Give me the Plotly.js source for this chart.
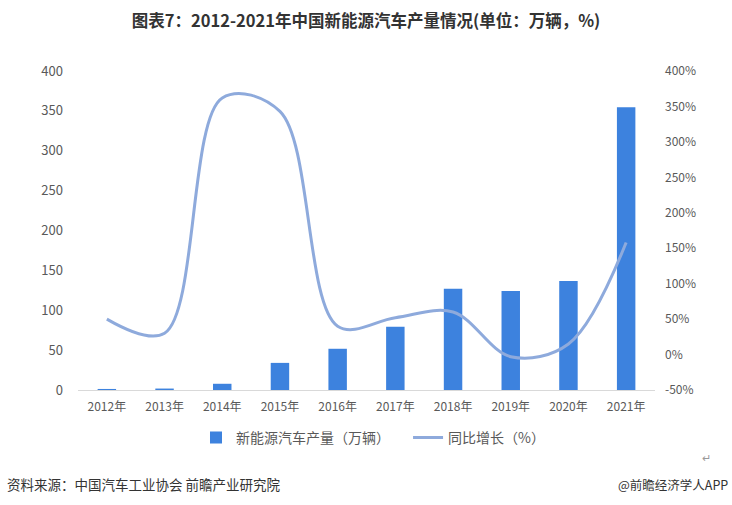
<!DOCTYPE html>
<html><head><meta charset="utf-8">
<script src="https://cdn.plot.ly/plotly-3.0.1.min.js"></script>
<style>html,body{margin:0;padding:0;background:#fff;}#chart{width:732px;height:505px;}</style>
</head><body><div id="chart"></div>
<script>
const categories = ['2012年','2013年','2014年','2015年','2016年','2017年','2018年','2019年','2020年','2021年'];
const production = [1.3, 1.8, 7.8, 34, 51.7, 79.4, 127, 124.2, 136.6, 354.5];
const growth = [50, 30, 362, 343, 40, 52, 60, -3, 15, 158];
const leftTicks = [0, 50, 100, 150, 200, 250, 300, 350, 400];
const rightTicks = [-50, 0, 50, 100, 150, 200, 250, 300, 350, 400];

const font = 'Noto Sans CJK SC, Noto Sans, sans-serif';
const data = [
  {type:'bar', x:categories, y:production, name:'新能源汽车产量（万辆）',
   marker:{color:'#3d82de'}, width:0.32, yaxis:'y', legend:'legend'},
  {type:'scatter', mode:'lines', x:categories, y:growth, name:'同比增长（%）',
   line:{color:'#8eaadc', width:3, shape:'spline', smoothing:1.0}, yaxis:'y2', legend:'legend2'}
];
const legendBase = {orientation:'h', yanchor:'middle', y:-0.15, xanchor:'left',
  font:{size:14, color:'#595959'}, itemwidth:30, bgcolor:'rgba(0,0,0,0)'};
const layout = {
  width:732, height:505,
  margin:{l:78, r:77, t:71, b:115},
  paper_bgcolor:'#fff', plot_bgcolor:'#fff',
  font:{family:font, size:12, color:'#595959'},
  title:{text:'<b>图表7：2012-2021年中国新能源汽车产量情况(单位：万辆，%)</b>',
    x:0.5, xanchor:'center', y:0.957, yanchor:'middle', font:{size:16.5, color:'#333', family:font}},
  showlegend:true,
  legend:Object.assign({}, legendBase, {x:0.2045}),
  legend2:Object.assign({}, legendBase, {x:0.572}),
  xaxis:{showline:true, linecolor:'#d9d9d9', linewidth:1, ticks:'', tickfont:{size:12, color:'#595959'},
    showgrid:false, zeroline:false, ticklabelstandoff:6},
  yaxis:{range:[0,400], tickvals:leftTicks, ticktext:leftTicks.map(String), showgrid:false, zeroline:false,
    showline:false, ticks:'', tickfont:{size:13, color:'#595959'}, ticklabelstandoff:14},
  yaxis2:{range:[-50,400], overlaying:'y', side:'right', tickvals:rightTicks,
    ticktext:rightTicks.map(v=>v+'%'), showgrid:false, zeroline:false, showline:false, ticks:'',
    tickfont:{size:12, color:'#595959'}, ticklabelstandoff:9},
  annotations:[
    {text:'资料来源：中国汽车工业协会 前瞻产业研究院', xref:'paper', yref:'paper', x:-0.1265, xanchor:'left',
     y:-0.296, yanchor:'middle', showarrow:false, font:{size:13.5, color:'#333'}},
    {text:'@前瞻经济学人APP', xref:'paper', yref:'paper', x:1.13, xanchor:'right',
     y:-0.296, yanchor:'middle', showarrow:false, font:{size:12.5, color:'#333'}},
    {text:'↵', xref:'paper', yref:'paper', x:1.09, xanchor:'center',
     y:-0.21, yanchor:'middle', showarrow:false, font:{size:11, color:'#999'}}
  ]
};
Plotly.newPlot('chart', data, layout, {displayModeBar:false, staticPlot:true});
</script></body></html>
